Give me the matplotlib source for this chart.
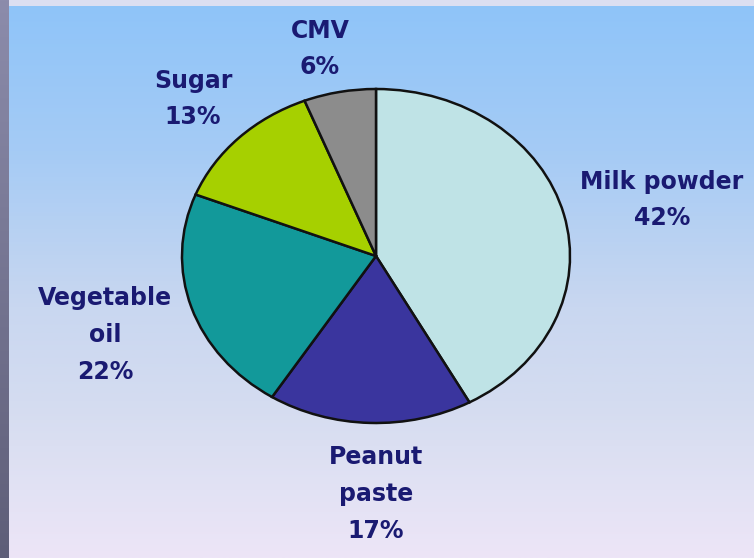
import matplotlib.pyplot as plt
import numpy as np
from matplotlib.colors import LinearSegmentedColormap

# data
labels = ['Milk powder\n42%', 'Peanut\npaste\n17%', 'Vegetable\noil\n22%', 'Sugar\n13%', 'CMV\n6%']
shares = [42, 17, 22, 13, 6]
colors = ['#bfe3e6', '#3a359e', '#12999a', '#a6d000', '#8c8c8c']
# label centers in pixels (x from left, y from top)
label_px = [(662, 200), (376, 494), (105, 335), (193, 99), (320, 49)]

W, H = 754, 558
fig = plt.figure(figsize=(W / 100, H / 100), dpi=100)

# background gradient
bg = fig.add_axes([0, 0, 1, 1], zorder=0)
bg.set_axis_off()
grad = LinearSegmentedColormap.from_list('bg', [
    (0.0, '#8ec4f9'), (0.27, '#a5cbf5'), (0.55, '#c9d7f0'),
    (0.72, '#d4dcf0'), (0.88, '#e2e2f4'), (1.0, '#ede5f7')])
bg.imshow(np.linspace(0, 1, 256).reshape(-1, 1), aspect='auto', cmap=grad,
          extent=[0, W, H, 0])
left_strip = LinearSegmentedColormap.from_list('ls', ['#8c8cab', '#5e5e78'])
bg.imshow(np.linspace(0, 1, 256).reshape(-1, 1), aspect='auto', cmap=left_strip,
          extent=[0, 9, H, 0])
bg.fill_between([9, W], 0, 6, color='#dcdff1', lw=0)
bg.set_xlim(0, W)
bg.set_ylim(H, 0)

# pie, stretched into an ellipse
ax = fig.add_axes([182 / W, 1 - 423 / H, 388 / W, 334 / H], zorder=1)
ax.pie(shares, colors=colors, startangle=90, counterclock=False,
       wedgeprops=dict(edgecolor='#111111', linewidth=1.8))
ax.set_aspect('auto')
ax.set_xlim(-1, 1)
ax.set_ylim(-1, 1)
ax.patch.set_visible(False)
for p in ax.patches:
    p.set_clip_on(False)

for lab, (x, y) in zip(labels, label_px):
    fig.text(x / W, 1 - y / H, lab, ha='center', va='center', ma='center',
             fontsize=17, fontweight='bold', color='#1a1a72',
             family='DejaVu Sans', linespacing=1.68, zorder=3)

fig.savefig('out.png', dpi=100)
